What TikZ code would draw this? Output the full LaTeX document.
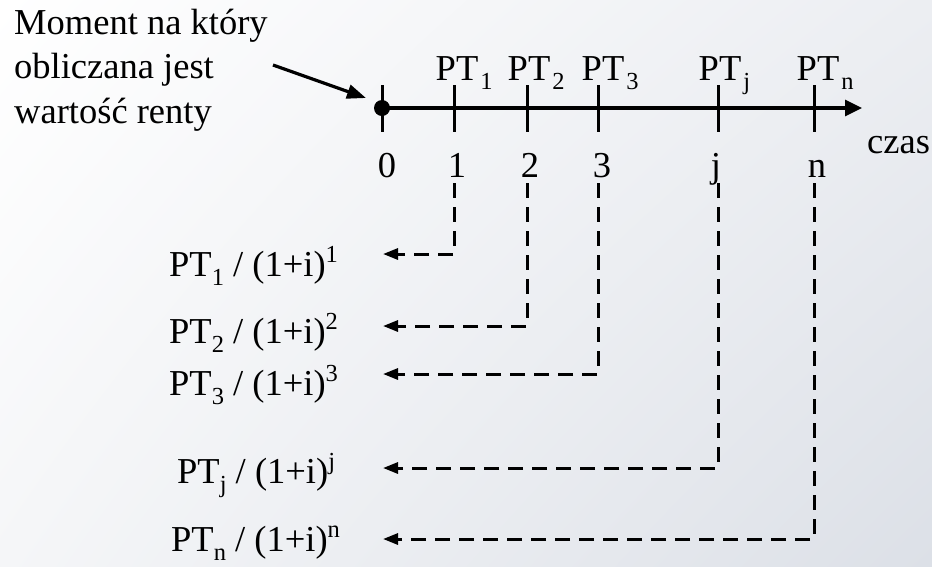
\documentclass[tikz,border=0pt]{standalone}
\usepackage{fontspec}
\setmainfont{Liberation Serif}
\usetikzlibrary{arrows.meta,shadings}
\definecolor{bgUR}{RGB}{236,238,242}
\definecolor{bgLR}{RGB}{220,224,231}
\definecolor{bgLL}{RGB}{245,246,248}
\newcommand{\lowsub}[1]{\raisebox{-0.27em}{\fontsize{24.5}{24.5}\selectfont #1}}
\newcommand{\highsup}[1]{\raisebox{0.36em}{\fontsize{24.5}{24.5}\selectfont #1}}
\tikzset{
  txt/.style={font=\fontsize{36.5}{44.5}\selectfont, inner sep=0pt, text=black},
  axisline/.style={line width=3.3pt, -{Triangle[length=17pt,width=16pt]}},
  tickline/.style={line width=3pt},
  flow/.style={line width=3pt, dash pattern=on 15pt off 9pt, -{Triangle[length=15pt,width=11pt]}},
  pointer/.style={line width=3.2pt, -{Triangle[length=19pt,width=14pt]}},
}
\begin{document}
\begin{tikzpicture}[x=1pt,y=-1pt]
\useasboundingbox (0,0) rectangle (932,566);
\shade[upper left=white, upper right=bgUR, lower left=bgLL, lower right=bgLR] (0,0) rectangle (932,566);

% text note and pointer
\node[txt, anchor=north west, align=left] (note) at (14,8.5) {Moment na który\\obliczana jest\\wartość renty};
\coordinate (ps) at (273,65);
\coordinate (pe) at (366,98);
\draw[pointer] (ps) -- (pe);

% axis
\coordinate (o) at (382,108);
\coordinate (axend) at (862,108);
\draw[axisline] (o) -- (axend);
\fill (o) circle (8pt);
\foreach \x in {382,454,527,598,718,814} {
  \draw[tickline] (\x,85) -- (\x,132);
}

% labels above
\node[txt, anchor=base] (pt1) at (457,80) {PT\rlap{\kern2pt\lowsub{1}}};
\node[txt, anchor=base] (pt2) at (529,80) {PT\rlap{\kern2pt\lowsub{2}}};
\node[txt, anchor=base] (pt3) at (603,80) {PT\rlap{\kern2pt\lowsub{3}}};
\node[txt, anchor=base] (ptj) at (720,80) {PT\rlap{\kern2pt\lowsub{j}}};
\node[txt, anchor=base] (ptn) at (818,80) {PT\rlap{\kern2pt\lowsub{n}}};

% labels below
\node[txt, anchor=base] (n0) at (387,177) {0};
\node[txt, anchor=base] (n1) at (457,177) {1};
\node[txt, anchor=base] (n2) at (530,177) {2};
\node[txt, anchor=base] (n3) at (602,177) {3};
\node[txt, anchor=base] (nj) at (716,177) {j};
\node[txt, anchor=base] (nn) at (817,177) {n};
\node[txt, anchor=base west] (czas) at (867,153) {czas};

% discounted values
\node[txt, anchor=base west] (r1) at (169,276) {PT\lowsub{1} / (1+i)\highsup{1}};
\node[txt, anchor=base west] (r2) at (169,343) {PT\lowsub{2} / (1+i)\highsup{2}};
\node[txt, anchor=base west] (r3) at (169,395) {PT\lowsub{3} / (1+i)\highsup{3}};
\node[txt, anchor=base west] (rj) at (177,483) {PT\lowsub{j} / (1+i)\highsup{j}};
\node[txt, anchor=base west] (rn) at (171,551) {PT\lowsub{n} / (1+i)\highsup{n}};

\coordinate (d1) at (454,183);
\coordinate (d2) at (527,183);
\coordinate (d3) at (598,183);
\coordinate (dj) at (718,183);
\coordinate (dn) at (814,183);
\coordinate (a1) at (383,254);
\coordinate (a2) at (383,326);
\coordinate (a3) at (383,374);
\coordinate (aj) at (383,468);
\coordinate (an) at (383,539);
\draw[flow] (d1) |- (a1);
\draw[flow] (d2) |- (a2);
\draw[flow] (d3) |- (a3);
\draw[flow] (dj) |- (aj);
\draw[flow] (dn) |- (an);
\end{tikzpicture}
\end{document}
